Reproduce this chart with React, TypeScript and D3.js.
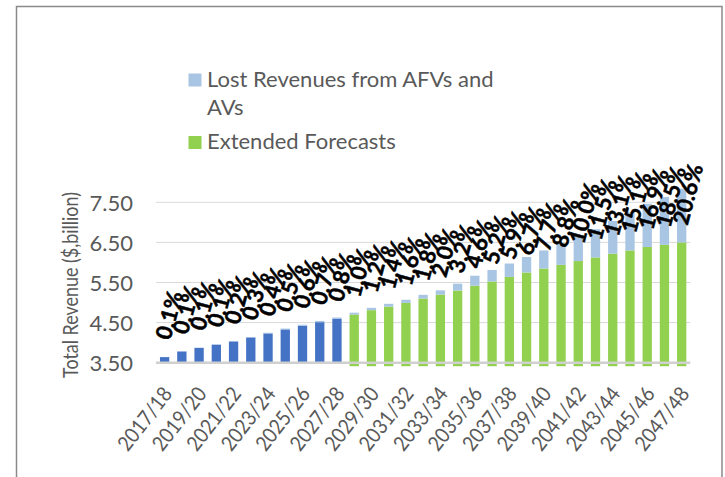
import React from 'react';
import * as d3 from 'd3';

const categories = [
  '2017/18', '2018/19', '2019/20', '2020/21', '2021/22', '2022/23', '2023/24', '2024/25',
  '2025/26', '2026/27', '2027/28', '2028/29', '2029/30', '2030/31', '2031/32', '2032/33',
  '2033/34', '2034/35', '2035/36', '2036/37', '2037/38', '2038/39', '2039/40', '2040/41',
  '2041/42', '2042/43', '2043/44', '2044/45', '2045/46', '2046/47', '2047/48',
];

// Base forecast (dark blue) for the first years
const forecast: (number | null)[] = [
  3.64, 3.78, 3.87, 3.95, 4.03, 4.13, 4.23, 4.33, 4.42, 4.51, 4.59,
  null, null, null, null, null, null, null, null, null,
  null, null, null, null, null, null, null, null, null, null, null,
];

// Extended forecasts (green)
const extended: (number | null)[] = [
  null, null, null, null, null, null, null, null, null, null, null,
  4.70, 4.81, 4.90, 4.99, 5.10, 5.20, 5.30, 5.42, 5.525, 5.64,
  5.75, 5.85, 5.94, 6.035, 6.125, 6.22, 6.30, 6.385, 6.44, 6.50,
];

// Lost revenues from AFVs and AVs (light blue, stacked on top)
const lost = [
  0.004, 0.004, 0.004, 0.004, 0.008, 0.012, 0.017, 0.022, 0.027, 0.032, 0.037,
  0.047, 0.058, 0.069, 0.080, 0.092, 0.104, 0.170, 0.249, 0.287, 0.333,
  0.385, 0.450, 0.523, 0.604, 0.704, 0.815, 0.951, 1.079, 1.191, 1.339,
];

const pctLabels = [
  '0.1%', '0.1%', '0.1%', '0.1%', '0.2%', '0.3%', '0.4%', '0.5%', '0.6%', '0.7%', '0.8%',
  '1.0%', '1.2%', '1.4%', '1.6%', '1.8%', '2.0%', '3.2%', '4.6%', '5.2%', '5.9%',
  '6.7%', '7.7%', '8.8%', '10.0%', '11.5%', '13.1%', '15.1%', '16.9%', '18.5%', '20.6%',
];

const yTicks = [3.5, 4.5, 5.5, 6.5, 7.5];
const yTitle = 'Total Revenue ($,billion)';
const legendLost = ['Lost Revenues from AFVs and', 'AVs'];
const legendExtended = 'Extended Forecasts';

const C_BLUE = '#4472C4';
const C_GREEN = '#92D050';
const C_LIGHT = '#A9C5E4';
const C_TEXT = '#595959';
const C_GRID = '#D9D9D9';
const FONT = "Lato, 'Open Sans', sans-serif";

export default function App() {
  const W = 725;
  const H = 477;
  const x = d3
    .scaleBand<string>()
    .domain(categories)
    .range([156, 690.3])
    .paddingInner(0.46)
    .paddingOuter(0.23);
  const y = d3.scaleLinear().domain([3.5, 7.5]).range([362.7, 202.3]);
  const bw = x.bandwidth();
  const fmt = d3.format('.2f');

  return (
    <svg
      width={W}
      height={H}
      style={{ position: 'absolute', left: 0, top: 0, background: '#fff' }}
      fontFamily={FONT}
    >
      <rect x={0} y={0} width={W} height={H} fill="#fff" />
      <rect x={16.5} y={6.5} width={705.5} height={500} fill="none" stroke="#8a8a8a" strokeWidth={1.5} />

      {/* gridlines */}
      {yTicks.slice(1).map((t) => (
        <line key={t} x1={156} x2={690.3} y1={y(t)} y2={y(t)} stroke={C_GRID} strokeWidth={1} />
      ))}

      {/* bars */}
      {categories.map((c, i) => {
        const base = forecast[i] ?? extended[i] ?? 3.5;
        const isExt = extended[i] != null;
        const x0 = x(c)!;
        return (
          <g key={c}>
            <rect
              x={x0}
              y={y(base)}
              width={bw}
              height={y(3.5) - y(base) + (isExt ? 3.5 : 0)}
              fill={isExt ? C_GREEN : C_BLUE}
            />
            <rect x={x0} y={y(base + lost[i])} width={bw} height={y(base) - y(base + lost[i])} fill={C_LIGHT} />
          </g>
        );
      })}

      {/* baseline */}
      <line x1={156} x2={690.3} y1={y(3.5)} y2={y(3.5)} stroke="#D0D0D0" strokeWidth={2.5} />

      {/* y tick labels */}
      {yTicks.map((t) => (
        <text
          key={t}
          x={133}
          y={y(t)}
          textAnchor="end"
          dominantBaseline="central"
          fontSize={22}
          fill={C_TEXT}
        >
          {fmt(t)}
        </text>
      ))}

      {/* y title */}
      <text
        transform="translate(69,285) rotate(-90)"
        textAnchor="middle"
        dominantBaseline="central"
        fontSize={21}
        textLength={186}
        lengthAdjust="spacingAndGlyphs"
        fill={C_TEXT}
      >
        {yTitle}
      </text>

      {/* x labels */}
      {categories.map((c, i) =>
        i % 2 === 0 ? (
          <text
            key={c}
            transform={`translate(${x(c)! + bw / 2 + 2},389) rotate(-52)`}
            textAnchor="end"
            dominantBaseline="central"
            fontSize={21}
            textLength={74}
            lengthAdjust="spacingAndGlyphs"
            fill={C_TEXT}
          >
            {c}
          </text>
        ) : null
      )}

      {/* data labels */}
      {categories.map((c, i) => {
        const base = forecast[i] ?? extended[i] ?? 3.5;
        const ax = x(c)! + bw / 2 - 2.5;
        const ay = y(base) - 18.5;
        return (
          <text
            key={c}
            transform={`translate(${ax},${ay}) rotate(-75)`}
            textAnchor="start"
            dominantBaseline="central"
            fontSize={22}
            fontWeight="bold"
            fill="#000"
            stroke="#000"
            strokeWidth={0.5}
          >
            {pctLabels[i]}
          </text>
        );
      })}

      {/* legend */}
      <rect x={188.5} y={73.5} width={13} height={13} fill={C_LIGHT} />
      <text x={207} y={87} fontSize={22} fill={C_TEXT}>
        {legendLost[0]}
      </text>
      <text x={207} y={115} fontSize={22} fill={C_TEXT}>
        {legendLost[1]}
      </text>
      <rect x={188.5} y={136} width={13} height={13} fill={C_GREEN} />
      <text x={207} y={148.5} fontSize={22} fill={C_TEXT}>
        {legendExtended}
      </text>
    </svg>
  );
}
